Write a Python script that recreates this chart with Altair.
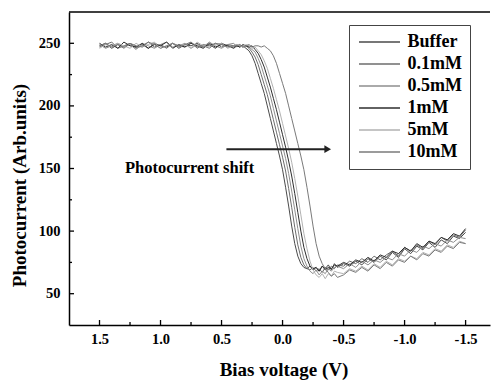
import altair as alt
import pandas as pd

# ---------------- data ----------------
voltage = [
    1.50, 1.45, 1.40, 1.35, 1.30, 1.25, 1.20, 1.15, 1.10, 1.05, 1.00, 0.95,
    0.90, 0.85, 0.80, 0.75, 0.70, 0.65, 0.60, 0.55, 0.50, 0.45, 0.40,
    0.375, 0.35, 0.325, 0.30, 0.275, 0.25, 0.225, 0.20, 0.175, 0.15, 0.125,
    0.10, 0.075, 0.05, 0.025, 0.0, -0.025, -0.05, -0.075, -0.10, -0.125,
    -0.15, -0.175, -0.20, -0.225, -0.25, -0.275, -0.30, -0.325, -0.35,
    -0.375, -0.40, -0.425, -0.45,
    -0.50, -0.55, -0.60, -0.65, -0.70, -0.75, -0.80, -0.85, -0.90, -0.95,
    -1.00, -1.05, -1.10, -1.15, -1.20, -1.25, -1.30, -1.35, -1.40, -1.45, -1.50,
]

buffer = [
    248, 250, 246, 249, 247, 250, 247, 249, 246, 250, 248, 247, 250, 246, 249,
    248, 250, 247, 249, 246, 250, 248, 247,
    248, 247, 248, 246, 244, 240, 234, 226, 218, 210, 200, 190, 180, 170, 160,
    149, 135, 120, 104, 90, 80, 74, 71, 70, 72, 69, 71, 68, 72, 70, 73, 69, 74, 71,
    74, 72, 76, 73, 78, 75, 80, 77, 83, 79, 86, 82, 88, 85, 91, 87, 93, 90, 96, 94, 99,
]
mm01 = [
    247, 249, 251, 246, 248, 250, 246, 248, 251, 247, 249, 246, 250, 248, 247,
    251, 246, 249, 248, 250, 247, 249, 248,
    249, 248, 247, 248, 246, 243, 239, 233, 225, 217, 209, 199, 189, 179, 169,
    159, 148, 134, 119, 103, 89, 79, 73, 70, 69, 71, 68, 70, 67, 71, 69, 72, 70, 73,
    72, 76, 74, 78, 75, 80, 77, 81, 84, 80, 87, 84, 89, 86, 92, 89, 95, 92, 97, 95, 101,
]
mm05 = [
    249, 246, 248, 250, 247, 249, 245, 250, 248, 246, 249, 251, 247, 248, 250,
    246, 249, 247, 251, 248, 246, 249, 250,
    247, 249, 247, 248, 247, 245, 243, 238, 232, 224, 216, 208, 198, 188, 178,
    168, 158, 146, 132, 117, 102, 88, 78, 72, 68, 66, 69, 65, 68, 66, 70, 68, 71, 72,
    70, 74, 71, 76, 73, 77, 75, 79, 77, 82, 80, 85, 83, 88, 86, 90, 88, 93, 91, 95, 94,
]
mm1 = [
    250, 247, 249, 246, 251, 248, 247, 250, 246, 249, 248, 251, 246, 249, 247,
    250, 248, 246, 250, 247, 249, 248, 246,
    248, 247, 249, 248, 247, 248, 245, 242, 237, 231, 223, 215, 206, 197, 187,
    177, 167, 156, 144, 130, 115, 100, 87, 78, 72, 70, 71, 68, 72, 69, 71, 70, 73, 72,
    75, 73, 77, 75, 79, 76, 81, 79, 84, 82, 87, 84, 90, 87, 92, 90, 95, 93, 98, 96, 102,
]
mm5 = [
    246, 249, 247, 250, 248, 246, 250, 247, 249, 251, 246, 248, 250, 247, 249,
    246, 251, 248, 247, 249, 250, 246, 248,
    249, 248, 247, 249, 248, 246, 247, 244, 241, 236, 230, 222, 214, 205, 196,
    186, 176, 166, 155, 142, 128, 113, 98, 86, 76, 69, 65, 63, 66, 62, 66, 64, 68, 67,
    66, 70, 68, 72, 69, 74, 71, 76, 73, 78, 76, 80, 78, 83, 81, 86, 84, 89, 87, 92, 90,
]
mm10 = [
    248, 250, 247, 249, 246, 250, 248, 247, 251, 249, 246, 248, 250, 247, 249,
    251, 247, 248, 246, 250, 249, 247, 248,
    248, 249, 247, 248, 249, 247, 248, 248, 247, 248, 246, 244, 240, 234, 226,
    218, 210, 200, 190, 180, 170, 160, 149, 135, 120, 104, 90, 80, 74, 70, 67, 64, 66, 63,
    65, 69, 67, 71, 68, 73, 70, 75, 72, 77, 75, 80, 77, 82, 80, 85, 83, 88, 86, 91, 90,
]

series_names = ["Buffer", "0.1mM", "0.5mM", "1mM", "5mM", "10mM"]
series_values = [buffer, mm01, mm05, mm1, mm5, mm10]
series_colors = ["#4a4a4a", "#6c6c6c", "#8e8e8e", "#2e2e2e", "#b2b2b2", "#7a7a7a"]

x_major = [1.5, 1.0, 0.5, 0.0, -0.5, -1.0, -1.5]
x_minor = [1.25, 0.75, 0.25, -0.25, -0.75, -1.25]
y_major = [50, 100, 150, 200, 250]
y_minor = [75, 125, 175, 225]

arrow_start = [0.46]
arrow_end = [-0.37]
arrow_level = [165.4]
note_x = [0.762]
note_y = [146.2]
note_text = ["Photocurrent shift"]

# ---------------- build ----------------
rows = []
for name, vals in zip(series_names, series_values):
    for v, p in zip(voltage, vals):
        rows.append({"V": v, "I": p, "series": name})
df = pd.DataFrame(rows)

W, H = 421, 313
FONT = "Liberation Serif"
xs = alt.Scale(domain=[1.75, -1.7], nice=False, zero=False)
ys = alt.Scale(domain=[25, 275], nice=False, zero=False)

x_axis = alt.Axis(
    values=x_major, ticks=False, grid=False,
    labelExpr="replace(format(datum.value, '.1f'), '\u2212', '-')",
    labelFont=FONT, labelFontWeight="bold", labelFontSize=14.5,
    labelColor="black", labelPadding=7,
    title="Bias voltage (V)", titleFont=FONT, titleFontWeight="bold",
    titleFontSize=19, titleColor="black", titleX=214.5, titleY=50,
    titleAlign="center", titleBaseline="alphabetic",
    domainColor="black", domainWidth=1.5,
)
y_axis = alt.Axis(
    values=y_major, ticks=False, grid=False,
    labelFont=FONT, labelFontWeight="bold", labelFontSize=14.5,
    labelColor="black", labelPadding=9,
    title="Photocurrent (Arb.units)", titleFont=FONT, titleFontWeight="bold",
    titleFontSize=19, titleColor="black", titleX=-49.5, titleY=173,
    titleAngle=270, titleAlign="center", titleBaseline="middle",
    domainColor="black", domainWidth=1.5,
)

lines = alt.Chart(df).mark_line(strokeWidth=1, clip=True).encode(
    x=alt.X("V:Q", scale=xs, axis=x_axis),
    y=alt.Y("I:Q", scale=ys, axis=y_axis),
    color=alt.Color(
        "series:N", sort=series_names,
        scale=alt.Scale(domain=series_names, range=series_colors),
        legend=alt.Legend(
            title=None, orient="none", legendX=280, legendY=13,
            symbolType="M-4.1,0H4.1", symbolSize=100, symbolStrokeWidth=1.5,
            symbolOffset=13.5, labelOffset=19,
            labelFont=FONT, labelFontWeight="bold", labelFontSize=18,
            labelColor="black", rowPadding=4, padding=8,
            strokeColor="#444444", fillColor="white",
        ),
    ),
)

xt_major = alt.Chart(pd.DataFrame({"t": x_major})).mark_rule(color="black", strokeWidth=1.3).encode(
    x=alt.X("t:Q", scale=xs, axis=x_axis), y=alt.value(H), y2=alt.value(H - 5))
xt_minor = alt.Chart(pd.DataFrame({"t": x_minor})).mark_rule(color="black", strokeWidth=1.3).encode(
    x=alt.X("t:Q", scale=xs, axis=x_axis), y=alt.value(H), y2=alt.value(H - 3))
yt_major = alt.Chart(pd.DataFrame({"t": y_major})).mark_rule(color="black", strokeWidth=1.3).encode(
    y=alt.Y("t:Q", scale=ys, axis=y_axis), x=alt.value(0), x2=alt.value(5))
yt_minor = alt.Chart(pd.DataFrame({"t": y_minor})).mark_rule(color="black", strokeWidth=1.3).encode(
    y=alt.Y("t:Q", scale=ys, axis=y_axis), x=alt.value(0), x2=alt.value(3))

top_border = alt.Chart(pd.DataFrame({"a": [0]})).mark_rule(color="black", strokeWidth=1.5).encode(
    x=alt.value(0), x2=alt.value(W), y=alt.value(0))

arrow_df = pd.DataFrame({"x0": arrow_start, "x1": arrow_end, "y": arrow_level})
arrow_line = alt.Chart(arrow_df).mark_rule(color="#222222", strokeWidth=2).encode(
    x=alt.X("x0:Q", scale=xs, axis=x_axis), x2="x1:Q", y=alt.Y("y:Q", scale=ys, axis=y_axis))
arrow_head = alt.Chart(arrow_df).mark_point(
    shape="triangle-right", filled=True, size=60, color="#222222", opacity=1
).encode(x=alt.X("x1:Q", scale=xs, axis=x_axis), y=alt.Y("y:Q", scale=ys, axis=y_axis))

note = alt.Chart(pd.DataFrame({"x": note_x, "y": note_y, "t": note_text})).mark_text(
    font=FONT, fontWeight="bold", fontSize=16.5, color="black",
    align="center", baseline="alphabetic",
).encode(x=alt.X("x:Q", scale=xs, axis=x_axis), y=alt.Y("y:Q", scale=ys, axis=y_axis), text="t:N")

chart = alt.layer(
    lines, xt_major, xt_minor, yt_major, yt_minor, top_border, arrow_line, arrow_head, note
).properties(
    width=W, height=H,
    autosize=alt.AutoSizeParams(type="none"),
    padding={"left": 69, "top": 12, "right": 1, "bottom": 56},
    background="white",
).configure_view(stroke=None)

chart.save("out.html", embed_options={"renderer": "svg", "actions": False})
